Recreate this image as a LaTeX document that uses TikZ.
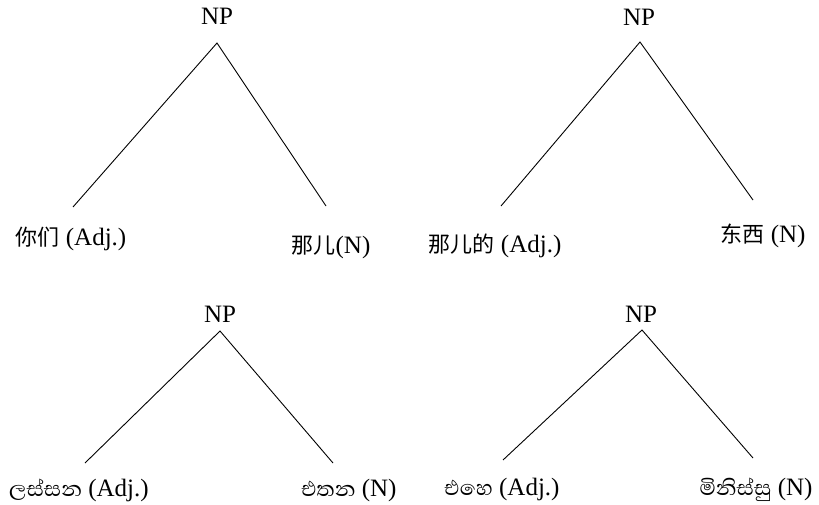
\documentclass[tikz,border=0pt]{standalone}
\usepackage{fontspec}
\setmainfont{Liberation Serif}
\newfontfamily\cjkfont{Noto Sans CJK SC}
\newfontfamily\sinhfont[Script=Sinhala]{Abhaya Libre}
\newcommand{\zh}[1]{{\fontsize{22}{24}\cjkfont #1}}
\newcommand{\si}[1]{{\fontsize{27}{28}\sinhfont #1}}
\begin{document}
\begin{tikzpicture}[x=1pt,y=-1pt,
  lbl/.style={inner sep=0pt,anchor=base,font=\fontsize{25}{28}\selectfont},
  br/.style={line width=0.9pt}]
\useasboundingbox (0,0) rectangle (819,505);
% tree 1
\node[lbl] (np1) at (217,25) {NP};
\coordinate (t1) at (217,43);
\node[lbl] (a1) at (71,245) {\zh{你们} (Adj.)};
\node[lbl] (b1) at (331,253) {\zh{那儿}(N)};
\coordinate (a1e) at (73,207);
\coordinate (b1e) at (326,206);
\draw[br] (a1e) -- (t1) -- (b1e);
% tree 2
\node[lbl] (np2) at (639,26) {NP};
\coordinate (t2) at (640,42);
\node[lbl] (a2) at (495,252) {\zh{那儿的} (Adj.)};
\node[lbl] (b2) at (763,242) {\zh{东西} (N)};
\coordinate (a2e) at (501,206);
\coordinate (b2e) at (753,200);
\draw[br] (a2e) -- (t2) -- (b2e);
% tree 3
\node[lbl] (np3) at (220,322) {NP};
\coordinate (t3) at (220,331);
\node[lbl] (a3) at (79,496) {\si{ලස්සන} (Adj.)};
\node[lbl] (b3) at (349,496) {\si{එතන} (N)};
\coordinate (a3e) at (85,463);
\coordinate (b3e) at (333,463);
\draw[br] (a3e) -- (t3) -- (b3e);
% tree 4
\node[lbl] (np4) at (641,322) {NP};
\coordinate (t4) at (642,330);
\node[lbl] (a4) at (502,495) {\si{එහෙ} (Adj.)};
\node[lbl] (b4) at (756,495) {\si{මිනිස්සු} (N)};
\coordinate (a4e) at (503,460);
\coordinate (b4e) at (753,458);
\draw[br] (a4e) -- (t4) -- (b4e);
\end{tikzpicture}
\end{document}
